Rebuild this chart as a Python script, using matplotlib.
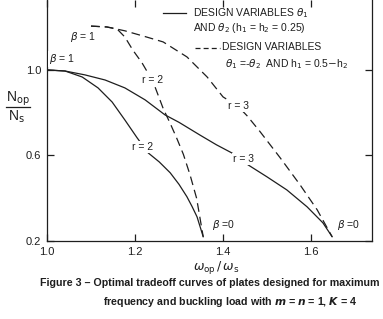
import matplotlib
matplotlib.use("Agg")
import matplotlib.pyplot as plt

# ---- data ----
# solid curves (design variables theta1, theta2; h1 = h2 = 0.25)
solid_r3_x = [1.0, 1.041, 1.086, 1.132, 1.177, 1.223, 1.268, 1.30, 1.348, 1.385, 1.42,
              1.457, 1.50, 1.545, 1.591, 1.627, 1.648]
solid_r3_y = [1.0, 0.995, 0.977, 0.953, 0.916, 0.86, 0.79, 0.755, 0.695, 0.65, 0.612,
              0.556, 0.50, 0.439, 0.36, 0.285, 0.22]
solid_r2_x = [1.0, 1.041, 1.080, 1.116, 1.148, 1.177, 1.205, 1.23, 1.255, 1.28, 1.30,
              1.318, 1.33, 1.341, 1.355]
solid_r2_y = [1.0, 0.995, 0.967, 0.916, 0.85, 0.766, 0.682, 0.612, 0.57, 0.519, 0.465,
              0.407, 0.36, 0.313, 0.22]
# dashed curves (theta1 = -theta2, h1 = 0.5 - h2)
dash_r2_x = [1.10, 1.136, 1.159, 1.177, 1.195, 1.216, 1.241, 1.264, 1.28, 1.295, 1.31,
             1.325, 1.34, 1.355]
dash_r2_y = [1.205, 1.201, 1.192, 1.154, 1.093, 1.033, 0.945, 0.82, 0.75, 0.68, 0.605,
             0.51, 0.40, 0.22]
dash_r3_x = [1.10, 1.136, 1.177, 1.223, 1.264, 1.318, 1.364, 1.40, 1.434, 1.455, 1.484,
             1.53, 1.575, 1.614, 1.648]
dash_r3_y = [1.205, 1.201, 1.183, 1.156, 1.131, 1.061, 0.967, 0.874, 0.83, 0.785, 0.712,
             0.589, 0.463, 0.346, 0.22]

x_ticks = [1.0, 1.2, 1.4, 1.6]
x_ticklabels = ["1.0", "1.2", "1.4", "1.6"]
y_ticks = [0.2, 0.6, 1.0]
y_ticklabels = ["0.2", "0.6", "1.0"]

# curve annotations: (text, x, y)
annotations = [
    (r"$\beta$ = 1", 1.082, 1.154),
    (r"$\beta$ = 1", 1.034, 1.051),
    ("r = 2", 1.218, 0.64),
    ("r = 2", 1.241, 0.955),
    ("r = 3", 1.436, 0.832),
    ("r = 3", 1.446, 0.584),
    (r"$\beta$ =0", 1.402, 0.276),
    (r"$\beta$ =0", 1.684, 0.276),
]

W, H = 383, 319
plt.rcParams['font.family'] = ['Liberation Sans', 'DejaVu Sans']
plt.rcParams['mathtext.fontset'] = 'dejavusans'
ink = '#1e1e1e'

fig = plt.figure(figsize=(W / 100, H / 100), dpi=100)
fig.patch.set_facecolor('white')
left, right, bottom, top = 47, 372, 241, 0
ax = fig.add_axes([left / W, 1 - bottom / H, (right - left) / W, (bottom - top) / H])

ax.plot(solid_r3_x, solid_r3_y, color=ink, lw=0.9, zorder=2)
ax.plot(solid_r2_x, solid_r2_y, color=ink, lw=0.9, zorder=2)
ax.plot(dash_r2_x, dash_r2_y, color=ink, lw=0.9, ls=(0, (7, 4)), zorder=2)
ax.plot(dash_r3_x, dash_r3_y, color=ink, lw=0.9, ls=(0, (7, 4)), zorder=2)

for txt, x, y in annotations:
    ax.text(x, y, txt, ha='center', va='center', fontsize=7.5, color=ink, zorder=3,
            bbox=dict(facecolor='white', edgecolor='none', pad=0.6))

ax.set_xlim(1.0, 1.0 + (right - left) / 440)
ax.set_ylim(0.2, 1.0 + 70 / 214)
ax.set_xticks(x_ticks)
ax.set_xticklabels(x_ticklabels)
ax.set_yticks(y_ticks)
ax.set_yticklabels(y_ticklabels)
ax.tick_params(direction='in', length=5, width=0.9, color=ink, labelcolor=ink,
               labelsize=8, top=True, right=True, pad=4)
ax.spines['top'].set_visible(False)
for s in ['left', 'bottom', 'right']:
    ax.spines[s].set_linewidth(0.9)
    ax.spines[s].set_color(ink)

def ft(x, y, s, **kw):
    fig.text(x / W, 1 - y / H, s, color=ink, **kw)

# legend
fig.add_artist(plt.Line2D([163 / W, 186 / W], [1 - 13 / H] * 2, color=ink, lw=0.9))
ft(193, 13, r"DESIGN VARIABLES $\theta_1$", fontsize=7.5, va='center')
ft(193, 28, r"AND $\theta_2$ (h$_1$ = h$_2$ = 0.25)", fontsize=7.5, va='center')
fig.add_artist(plt.Line2D([195 / W, 220 / W], [1 - 48 / H] * 2, color=ink, lw=0.9, ls=(0, (4, 2.5))))
ft(222, 47, "DESIGN VARIABLES", fontsize=7.5, va='center')
ft(225, 64, r"$\theta_1$ =-$\theta_2$  AND h$_1$ = 0.5$-$h$_2$", fontsize=7.5, va='center')

# y label as a stacked fraction
ft(18, 99, r"N$_{\mathrm{op}}$", fontsize=10, ha='center', va='center')
fig.add_artist(plt.Line2D([6 / W, 30 / W], [1 - 107 / H] * 2, color=ink, lw=0.9))
ft(16, 117, r"N$_{\mathrm{s}}$", fontsize=10, ha='center', va='center')
# x label
ft(216, 267, r"$\omega_{\mathrm{op}}\,/\,\omega_{\mathrm{s}}$", fontsize=9, ha='center', va='center')

# caption
ft(40, 283, "Figure 3 \u2013 Optimal tradeoff curves of plates designed for maximum",
   fontsize=7.7, fontweight='bold', va='center')
ft(103, 302, r"frequency and buckling load with $\mathbfit{m}$ = $\mathbfit{n}$ = 1, $\mathbfit{K}$ = 4",
   fontsize=7.7, fontweight='bold', va='center')

fig.savefig("out.png", dpi=100, facecolor='white')
